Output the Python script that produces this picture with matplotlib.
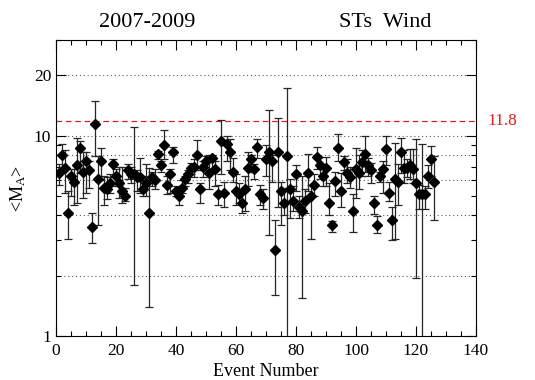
import numpy as np
import matplotlib
matplotlib.use('Agg')
from matplotlib import pyplot as plt
from matplotlib.ticker import FixedLocator, NullFormatter, MultipleLocator

plt.rcParams['font.family'] = 'Liberation Serif'
plt.rcParams['mathtext.fontset'] = 'custom'
plt.rcParams['mathtext.rm'] = 'Liberation Serif'
plt.rcParams['mathtext.it'] = 'Liberation Serif:italic'

# mean Alfven Mach number per event, with upper / lower ends of the error bar
events = np.arange(1, 127)
mach = [6.5, 8.0, 6.9, 4.1, 6.3, 5.9, 7.1, 8.7, 6.6, 7.5,
        6.7, 3.5, 11.4, 6.1, 7.5, 5.5, 5.4, 5.8, 7.2, 6.3,
        5.8, 5.3, 5.0, 6.7, 6.4, 6.4, 6.2, 6.2, 5.4, 5.8,
        4.1, 6.2, 6.0, 8.1, 7.1, 9.0, 5.7, 6.4, 8.3, 5.3,
        5.0, 5.5, 6.1, 6.4, 6.9, 7.0, 8.0, 5.4, 7.0, 7.5,
        6.5, 7.7, 6.8, 5.1, 9.4, 5.2, 9.1, 8.3, 6.6, 5.3,
        5.1, 4.6, 5.4, 6.9, 7.6, 6.8, 8.8, 5.1, 4.9, 7.6,
        8.3, 7.5, 2.7, 8.3, 5.3, 4.6, 7.9, 5.4, 4.7, 6.4,
        4.4, 4.2, 4.7, 6.5, 5.0, 5.7, 7.8, 7.1, 6.3, 6.9,
        4.6, 3.6, 5.95, 8.7, 5.3, 7.4, 6.5, 6.2, 4.2, 6.8,
        6.5, 7.4, 8.1, 7.1, 6.7, 4.6, 3.6, 6.3, 6.8, 8.6,
        5.2, 3.8, 6.1, 5.9, 8.3, 6.9, 6.9, 7.1, 6.8, 5.8,
        5.1, 5.1, 5.1, 6.3, 7.6, 5.9]
mach_hi = [7.2, 9.1, 8.5, 5.3, 6.8, 6.8, 9.7, 9.4, 8.3, 8.3,
           7.5, 4.1, 14.8, 7.9, 8.7, 6.3, 6.2, 6.4, 7.6, 6.8,
           7.0, 7.0, 5.5, 7.2, 7.0, 11.0, 6.7, 7.7, 6.3, 7.2,
           6.9, 6.6, 6.8, 8.4, 7.5, 10.7, 6.3, 6.8, 8.8, 5.6,
           5.4, 6.0, 6.3, 6.7, 7.3, 7.6, 9.5, 5.8, 7.5, 7.9,
           8.0, 8.0, 7.5, 5.7, 12.0, 5.9, 10.0, 9.6, 7.7, 6.4,
           5.8, 5.2, 6.3, 8.3, 8.0, 7.2, 9.6, 5.7, 5.4, 9.0,
           13.4, 8.0, 3.8, 12.2, 5.9, 5.5, 17.3, 6.1, 5.6, 7.1,
           5.0, 6.3, 5.4, 8.1, 5.7, 6.4, 8.8, 7.8, 7.1, 7.8,
           5.8, 3.75, 6.6, 10.2, 6.5, 7.9, 7.6, 7.0, 5.1, 8.7,
           8.0, 8.5, 10.0, 7.7, 7.3, 5.0, 3.95, 6.6, 7.5, 10.0,
           5.9, 4.4, 9.2, 7.2, 9.7, 8.5, 7.6, 8.6, 8.6, 9.6,
           5.7, 9.1, 5.6, 7.1, 8.9, 7.9]
mach_lo = [5.7, 7.0, 5.2, 3.05, 5.0, 4.5, 4.6, 6.5, 4.9, 5.2,
           5.5, 2.9, 7.9, 3.6, 6.0, 4.5, 4.8, 5.2, 6.2, 5.6,
           4.9, 4.6, 4.7, 6.1, 5.8, 1.8, 5.3, 5.2, 5.0, 5.0,
           1.4, 5.6, 5.4, 7.6, 6.6, 7.6, 5.1, 5.2, 7.3, 5.0,
           4.5, 5.2, 5.6, 5.8, 6.4, 6.2, 6.7, 4.6, 6.2, 6.7,
           5.4, 6.7, 5.6, 4.5, 6.4, 4.4, 7.5, 6.7, 5.9, 4.5,
           4.6, 4.1, 4.2, 5.6, 6.6, 6.1, 7.7, 4.5, 4.3, 6.3,
           3.2, 5.9, 1.6, 4.4, 3.6, 4.0, 0.5, 3.9, 4.2, 5.3,
           3.9, 1.55, 4.1, 5.3, 3.05, 5.0, 6.8, 6.1, 5.6, 5.6,
           4.0, 3.3, 5.0, 7.5, 4.4, 6.7, 5.8, 5.5, 3.3, 4.9,
           5.4, 6.3, 6.6, 6.3, 5.8, 4.05, 3.25, 5.9, 5.2, 7.1,
           4.7, 3.0, 3.04, 4.5, 6.5, 5.8, 6.2, 6.1, 5.8, 1.95,
           4.3, 0.5, 4.3, 5.5, 6.3, 3.8]

mean_level = 11.8
grid_levels = [2, 4, 6, 8, 10, 20]

fig = plt.figure(figsize=(5.35, 3.8), dpi=100)
ax = fig.add_axes([0.1047, 0.1158, 0.785, 0.779])

mach = np.array(mach)
yerr = [mach - np.array(mach_lo), np.array(mach_hi) - mach]

for lvl in grid_levels:
    ax.axhline(lvl, color='0.35', linestyle=(0, (1, 2.5)), linewidth=0.8, zorder=1)
ax.axhline(mean_level, color='#d42020', linestyle=(0, (4.5, 3)), linewidth=0.9, zorder=1)

ax.errorbar(events, mach, yerr=yerr, fmt='D', color='black', markersize=4.7,
            ecolor='0.15', elinewidth=0.9, capsize=2.8, capthick=0.9, zorder=3)

ax.set_yscale('log')
ax.set_xlim(0, 140)
ax.set_ylim(1, 30)

ax.xaxis.set_major_locator(MultipleLocator(20))
ax.xaxis.set_minor_locator(MultipleLocator(5))
ax.yaxis.set_major_locator(FixedLocator([1, 10, 20]))
ax.yaxis.set_minor_locator(FixedLocator([2, 3, 4, 5, 6, 7, 8, 9, 30]))
ax.yaxis.set_minor_formatter(NullFormatter())
ax.set_yticklabels(['1', '10', '20'])

ax.tick_params(which='both', direction='in', top=True, right=True, labelsize=12.5)
ax.tick_params(which='major', length=7, width=0.8)
ax.tick_params(which='minor', length=3.5, width=0.8)
ax.tick_params(axis='x', pad=5)

ax.set_xlabel('Event Number', fontsize=13, labelpad=3)
ax.set_ylabel(r'<M$_\mathregular{A}$>', fontsize=13, labelpad=4)

fig.text(0.275, 0.929, '2007-2009', ha='center', va='baseline', fontsize=16)
fig.text(0.72, 0.929, 'STs  Wind', ha='center', va='baseline', fontsize=16)
ax.text(1.062, mean_level, '%.1f' % mean_level, transform=ax.get_yaxis_transform(),
        color='#e0201b', fontsize=12.5, ha='center', va='center')

plt.savefig('out.png', dpi=100)
